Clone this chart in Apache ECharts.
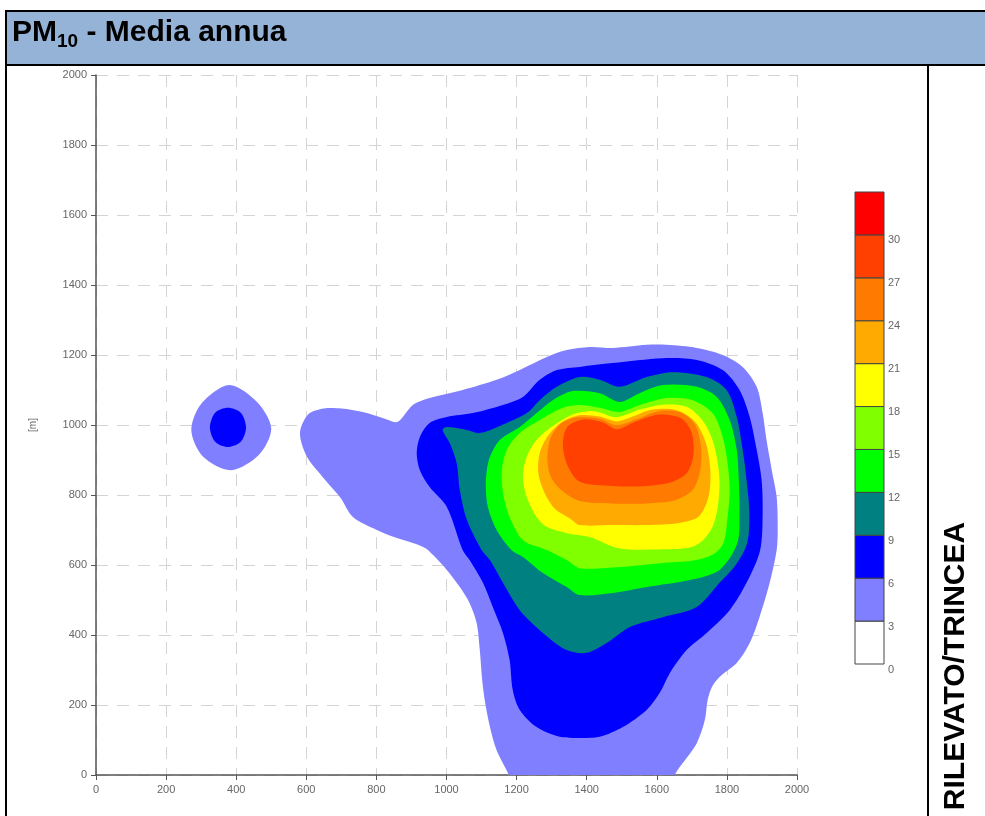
<!DOCTYPE html>
<html><head><meta charset="utf-8">
<script src="https://cdn.jsdelivr.net/npm/echarts@6/dist/echarts.min.js"></script>
<style>html,body{margin:0;padding:0;background:#fff}#c{width:985px;height:816px}</style>
</head><body><div id="c"></div>
<script>
// ---- data ----
const axisTicks = [0,200,400,600,800,1000,1200,1400,1600,1800,2000];
const levels = [0,3,6,9,12,15,18,21,24,27,30,33];
const levelColors = ['#FFFFFF','#7F7FFF','#0000FF','#008080','#00FF00','#80FF00','#FFFF00','#FFAA00','#FF7A00','#FF4000','#FF0000'];

// contour polygons [x m, y m]
const contour3Small = [[272,985],[300,1060],[380,1114],[460,1065],[500,990],[465,915],[385,871],[305,910]];
const contour6Small = [[325,993],[340,1035],[376,1049],[413,1035],[428,993],[413,952],[376,937],[340,952]];
const contour3Main = [[1178,0],[1143,71],[1124,137],[1109,214],[1101,280],[1095,357],[1086,434],[1066,491],[1038,537],[1001,586],[961,629],[940,648],[904,663],[850,680],[801,700],[733,737],[696,794],[647,851],[602,909],[582,977],[605,1030],[650,1047],[700,1047],[761,1037],[830,1016],[861,1009],[904,1057],[952,1077],[1046,1100],[1143,1129],[1209,1157],[1286,1194],[1343,1214],[1409,1223],[1474,1220],[1571,1229],[1628,1229],[1714,1220],[1788,1200],[1845,1166],[1885,1109],[1902,1034],[1913,957],[1928,871],[1942,794],[1945,700],[1942,643],[1922,549],[1893,451],[1865,377],[1828,320],[1779,280],[1757,251],[1745,214],[1737,157],[1714,91],[1674,34],[1651,0],[1640,-40],[1190,-40]];
const contour6Main = [[1380,106],[1323,109],[1257,137],[1209,186],[1189,243],[1180,329],[1161,406],[1132,480],[1104,549],[1066,614],[1046,643],[1001,766],[952,823],[924,871],[915,920],[924,966],[952,1006],[1001,1023],[1075,1034],[1161,1057],[1218,1080],[1266,1129],[1315,1157],[1380,1166],[1474,1177],[1617,1191],[1714,1186],[1788,1157],[1836,1100],[1865,1023],[1885,929],[1899,843],[1902,749],[1895,643],[1856,549],[1808,471],[1742,406],[1685,357],[1637,291],[1608,234],[1571,186],[1503,137],[1437,109]];
const contour9 = [[1400,349],[1343,357],[1275,406],[1209,471],[1161,549],[1124,614],[1100,643],[1058,729],[1038,814],[1029,891],[1009,949],[989,986],[1001,994],[1058,986],[1095,977],[1172,1006],[1229,1034],[1266,1071],[1315,1109],[1380,1137],[1437,1129],[1494,1109],[1571,1137],[1645,1151],[1742,1137],[1799,1100],[1828,1023],[1845,929],[1856,843],[1864,749],[1858,663],[1825,600],[1779,549],[1714,480],[1617,451],[1523,423],[1457,377]];
const contour12 = [[1380,514],[1343,537],[1275,577],[1218,623],[1185,643],[1143,700],[1118,766],[1112,823],[1115,871],[1124,909],[1152,957],[1209,994],[1257,1034],[1303,1071],[1360,1097],[1437,1091],[1494,1066],[1551,1091],[1617,1114],[1714,1109],[1771,1080],[1808,1014],[1828,929],[1834,843],[1836,749],[1830,663],[1779,586],[1694,557],[1571,537],[1474,520]];
const contour15 = [[1380,591],[1343,614],[1286,643],[1218,671],[1180,737],[1161,806],[1158,871],[1172,929],[1209,977],[1266,1014],[1332,1049],[1380,1057],[1437,1049],[1494,1037],[1551,1057],[1628,1077],[1702,1071],[1759,1034],[1788,966],[1802,891],[1808,814],[1802,737],[1790,663],[1760,630],[1700,612],[1617,606],[1494,594]];
const contour18 = [[1409,680],[1343,691],[1286,709],[1257,737],[1229,794],[1218,851],[1229,909],[1257,957],[1303,997],[1360,1030],[1409,1040],[1437,1036],[1486,1022],[1551,1044],[1617,1058],[1685,1052],[1731,1012],[1759,957],[1774,891],[1779,834],[1774,766],[1759,709],[1731,670],[1694,650],[1617,645],[1494,647]];
const contour21 = [[1380,714],[1355,731],[1310,760],[1280,806],[1262,863],[1266,920],[1290,970],[1332,1010],[1380,1028],[1437,1024],[1486,1010],[1531,1024],[1588,1044],[1657,1042],[1710,1008],[1740,949],[1752,880],[1752,823],[1742,777],[1718,737],[1665,720],[1571,714],[1474,714]];
const contour24 = [[1380,783],[1330,812],[1298,851],[1288,900],[1296,960],[1325,1003],[1372,1022],[1437,1018],[1486,999],[1551,1020],[1608,1040],[1670,1035],[1710,1000],[1726,937],[1724,871],[1702,814],[1650,784],[1571,776],[1474,776]];
const contour27 = [[1380,838],[1345,885],[1332,945],[1345,995],[1390,1016],[1445,1008],[1486,988],[1540,1010],[1608,1030],[1668,1020],[1698,982],[1705,920],[1688,866],[1645,838],[1571,826],[1474,826]];

const polys = [
  {level:3, pts:contour3Main},{level:3, pts:contour3Small},
  {level:6, pts:contour6Main},{level:6, pts:contour6Small},
  {level:9, pts:contour9},{level:12, pts:contour12},{level:15, pts:contour15},
  {level:18, pts:contour18},{level:21, pts:contour21},{level:24, pts:contour24},{level:27, pts:contour27}
];
const colorFor = lv => levelColors[levels.indexOf(lv)];
const segs = levels.slice(0,-1).map((lo,i)=>[lo, levels[i+1], i]);

const chart = echarts.init(document.getElementById('c'), null, {renderer:'canvas'});
const labelStyle = {color:'#666', fontSize:11, fontFamily:'Arial, Liberation Sans, sans-serif'};
chart.setOption({
  animation:false,
  backgroundColor:'#fff',
  grid:[
    {left:96, top:75, width:701, height:700},
    {left:855, top:192, width:29, height:472}
  ],
  xAxis:[
    {gridIndex:0, type:'value', min:0, max:2000, interval:200,
     axisLine:{show:true, lineStyle:{color:'#555', width:1.5}},
     axisTick:{show:true, length:5, lineStyle:{color:'#555'}},
     axisLabel:Object.assign({margin:9, formatter:v=>String(v)}, labelStyle),
     splitLine:{show:true, lineStyle:{color:'#d4d4d4', type:[12,9], width:1}}},
    {gridIndex:1, type:'value', min:0, max:1, show:false}
  ],
  yAxis:[
    {gridIndex:0, type:'value', min:0, max:2000, interval:200,
     name:'[m]', nameLocation:'middle', nameGap:58, nameRotate:90,
     nameTextStyle:{color:'#666', fontSize:10},
     axisLine:{show:true, lineStyle:{color:'#555', width:1.5}},
     axisTick:{show:true, length:5, lineStyle:{color:'#555'}},
     axisLabel:Object.assign({margin:9, formatter:v=>String(v)}, labelStyle),
     splitLine:{show:true, lineStyle:{color:'#d4d4d4', type:[12,9], width:1}}},
    {gridIndex:1, type:'value', min:0, max:33, interval:3, position:'right',
     axisLine:{show:false}, axisTick:{show:false}, splitLine:{show:false},
     axisLabel:Object.assign({margin:4, verticalAlign:'top', formatter:v=>v===33?'':String(v)}, labelStyle)}
  ],
  series:[
    {type:'custom', xAxisIndex:0, yAxisIndex:0, clip:true,
     data: polys.map((p,i)=>[i]),
     renderItem:(params, api)=>{
       const p = polys[params.dataIndex];
       return {type:'polygon', shape:{points:p.pts.map(q=>api.coord(q)), smooth:0.3},
               style:{fill:colorFor(p.level), stroke:null}};
     }},
    {type:'custom', xAxisIndex:1, yAxisIndex:1,
     data: segs,
     renderItem:(params, api)=>{
       const a = api.coord([0, api.value(1)]);
       const b = api.coord([1, api.value(0)]);
       return {type:'rect', shape:{x:a[0], y:a[1], width:b[0]-a[0], height:b[1]-a[1]},
               style:{fill:levelColors[api.value(2)], stroke:'#444', lineWidth:1}};
     }}
  ],
  graphic:[
    {type:'rect', silent:true, shape:{x:6, y:12, width:979, height:53}, style:{fill:'#95B3D7'}},
    {type:'line', shape:{x1:5, y1:11, x2:985, y2:11}, style:{stroke:'#000', lineWidth:2}},
    {type:'line', shape:{x1:5, y1:65, x2:985, y2:65}, style:{stroke:'#000', lineWidth:2}},
    {type:'line', shape:{x1:6, y1:11, x2:6, y2:816}, style:{stroke:'#000', lineWidth:2}},
    {type:'line', shape:{x1:928, y1:65, x2:928, y2:816}, style:{stroke:'#000', lineWidth:2}},
    {type:'text', x:12, y:33, style:{
      text:'{a|PM}{b|10}{a| - Media annua}', verticalAlign:'middle',
      rich:{a:{fontSize:30, fontWeight:'bold', fontFamily:'Arial, Liberation Sans, sans-serif', fill:'#000', lineHeight:36},
            b:{fontSize:19, fontWeight:'bold', fontFamily:'Arial, Liberation Sans, sans-serif', fill:'#000', lineHeight:18, verticalAlign:'bottom'}}}},
    {type:'text', x:956, y:666, rotation:Math.PI/2, style:{
      text:'RILEVATO/TRINCEA', fontSize:30, fontWeight:'bold', fontFamily:'Arial, Liberation Sans, sans-serif',
      fill:'#000', align:'center', verticalAlign:'middle'}}
  ]
});
</script></body></html>
